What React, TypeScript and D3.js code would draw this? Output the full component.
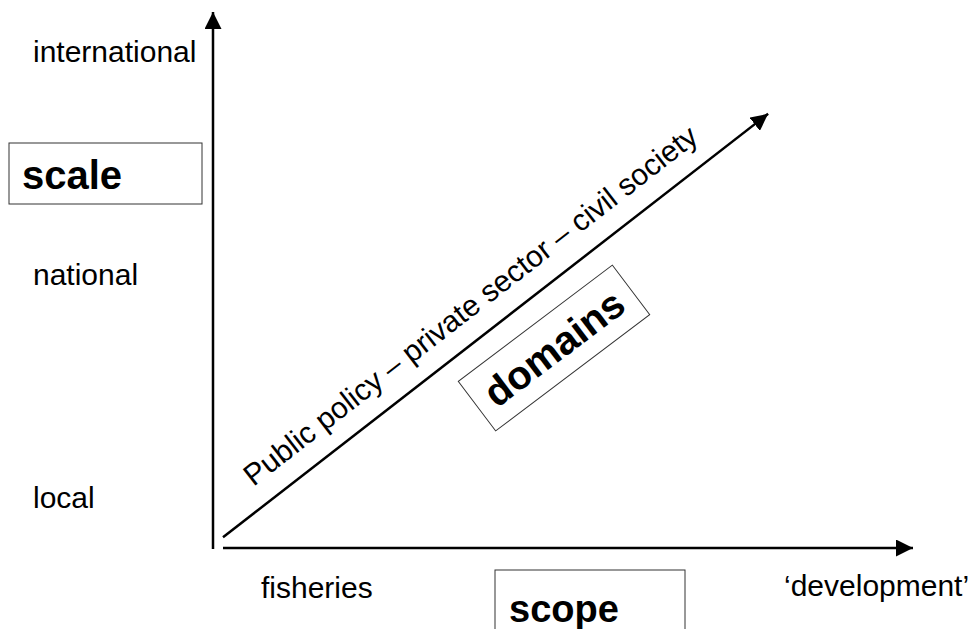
import { useEffect, useRef } from 'react'
import * as d3 from 'd3'

// 축 레이블 데이터
const scaleLevels = ['local', 'national', 'international']
const scopeEnds = ['fisheries', '\u2018development\u2019']
const domainText = 'Public policy \u2013 private sector \u2013 civil society'
const boxTitles = ['scale', 'scope', 'domains']

// 대각선(도메인 축)의 끝점, 단위 좌표
const diagonalStart = [0.0, 0.02]
const diagonalEnd = [0.79, 0.81]

const FONT = '"Liberation Sans", Arial, Helvetica, sans-serif'

export default function App() {
  const svgRef = useRef<SVGSVGElement>(null)

  useEffect(() => {
    if (!svgRef.current) return
    const width = 974
    const height = 629
    const svg = d3.select(svgRef.current).attr('width', width).attr('height', height)
    svg.selectAll('*').remove()

    const x = d3.scaleLinear().domain([0, 1]).range([223, 913])
    const y = d3.scaleLinear().domain([0, 1]).range([548, 12])
    const levelY = d3.scalePoint<string>().domain(scaleLevels).range([508, 62])

    // 화살표 마커
    svg
      .append('defs')
      .append('marker')
      .attr('id', 'arrow')
      .attr('markerUnits', 'userSpaceOnUse')
      .attr('viewBox', '0 0 16 16')
      .attr('refX', 16)
      .attr('refY', 8)
      .attr('markerWidth', 17)
      .attr('markerHeight', 17)
      .attr('orient', 'auto')
      .append('path')
      .attr('d', 'M0,0 L16,8 L0,16 Z')
      .attr('fill', '#000')

    const axisX = 213
    // 세로 축 (scale)
    svg
      .append('line')
      .attr('x1', axisX)
      .attr('y1', y(0) + 1)
      .attr('x2', axisX)
      .attr('y2', y(1))
      .attr('stroke', '#000')
      .attr('stroke-width', 2.5)
      .attr('marker-end', 'url(#arrow)')

    // 가로 축 (scope)
    svg
      .append('line')
      .attr('x1', x(0))
      .attr('y1', y(0))
      .attr('x2', x(1))
      .attr('y2', y(0))
      .attr('stroke', '#000')
      .attr('stroke-width', 2.5)
      .attr('marker-end', 'url(#arrow)')

    // 대각선 (domains)
    const [x1, y1] = [x(diagonalStart[0]), y(diagonalStart[1])]
    const [x2, y2] = [x(diagonalEnd[0]), y(diagonalEnd[1])]
    svg
      .append('line')
      .attr('x1', x1)
      .attr('y1', y1)
      .attr('x2', x2)
      .attr('y2', y2)
      .attr('stroke', '#000')
      .attr('stroke-width', 2.5)
      .attr('marker-end', 'url(#arrow)')

    // 대각선 위 레이블: 선에서 위쪽으로 띄움
    const angle = (Math.atan2(y2 - y1, x2 - x1) * 180) / Math.PI
    const rad = (angle * Math.PI) / 180
    const ux = Math.cos(rad)
    const uy = Math.sin(rad)
    const nx = uy
    const ny = -ux
    const along = 55
    const off = 21
    svg
      .append('text')
      .attr(
        'transform',
        `translate(${x1 + ux * along + nx * off},${y1 + uy * along + ny * off}) rotate(${angle})`
      )
      .style('font-family', FONT)
      .style('font-size', '30px')
      .text(domainText)

    // 스케일 레벨 레이블
    svg
      .selectAll('.level')
      .data(scaleLevels)
      .enter()
      .append('text')
      .attr('class', 'level')
      .attr('x', 33)
      .attr('y', d => levelY(d) || 0)
      .style('font-family', FONT)
      .style('font-size', '30px')
      .text(d => d)

    // 스코프 양 끝 레이블
    svg
      .selectAll('.scope-end')
      .data(scopeEnds)
      .enter()
      .append('text')
      .attr('class', 'scope-end')
      .attr('x', (_, i) => (i === 0 ? 261 : 784))
      .attr('y', (_, i) => (i === 0 ? 598 : 596))
      .style('font-family', FONT)
      .style('font-size', '30px')
      .text(d => d)

    // 제목 박스
    const boxes = [
      { label: boxTitles[0], cx: 105.5, cy: 173.5, w: 193, h: 61, rot: 0, left: 22 },
      { label: boxTitles[1], cx: 590, cy: 605, w: 190, h: 70, rot: 0, left: 509 },
      { label: boxTitles[2], cx: 554, cy: 348, w: 193, h: 62, rot: angle + 0.8, left: null },
    ]
    boxes.forEach(b => {
      const g = svg.append('g').attr('transform', `translate(${b.cx},${b.cy}) rotate(${b.rot})`)
      g.append('rect')
        .attr('x', -b.w / 2)
        .attr('y', -b.h / 2)
        .attr('width', b.w)
        .attr('height', b.h)
        .attr('fill', 'none')
        .attr('stroke', '#333')
        .attr('stroke-width', 1)
      g.append('text')
        .attr('x', b.left === null ? 0 : b.left - b.cx)
        .attr('y', b.label === 'scope' ? 622 - b.cy : b.label === 'scale' ? 189 - b.cy : 14)
        .attr('text-anchor', b.left === null ? 'middle' : 'start')
        .style('font-family', FONT)
        .style('font-size', b.label === 'scope' ? '38px' : '40px')
        .style('font-weight', 'bold')
        .text(b.label)
    })
  }, [])

  return (
    <svg
      ref={svgRef}
      style={{ position: 'absolute', left: 0, top: 0, background: '#fff' }}
    ></svg>
  )
}
